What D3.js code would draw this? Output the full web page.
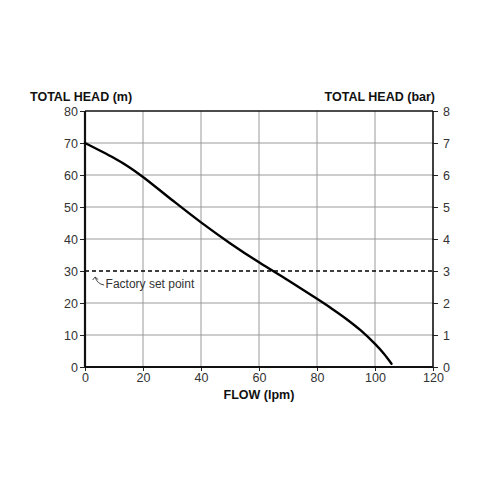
<!DOCTYPE html>
<html>
<head>
<meta charset="utf-8">
<script src="https://cdn.jsdelivr.net/npm/d3@7"></script>
<style>
  body { margin: 0; background: #fff; }
  text { font-family: "Liberation Sans", Arial, sans-serif; }
</style>
</head>
<body>
<div id="chart"></div>
<script>
// pump curve: flow (lpm) vs head (m)
const flow = [0, 10, 15, 20, 30, 40, 50, 60, 70, 80, 85, 90, 95, 100, 103, 105.7];
const head = [70, 65.3, 62.6, 59.4, 52.2, 45.2, 38.7, 32.7, 27.1, 21.3, 18.3, 15.1, 11.5, 7.2, 4.2, 1.0];
const xTicks = [0, 20, 40, 60, 80, 100, 120];
const mTicks = [0, 10, 20, 30, 40, 50, 60, 70, 80];
const barTicks = [0, 1, 2, 3, 4, 5, 6, 7, 8];
const setPoint = 30;

const W = 500, H = 500;
const margin = {top: 111, right: 67, bottom: 133, left: 85};
const width = W - margin.left - margin.right,
      height = H - margin.top - margin.bottom;

const svg = d3.select("#chart").append("svg")
  .attr("width", W).attr("height", H);
const g = svg.append("g")
  .attr("transform", "translate(" + margin.left + "," + margin.top + ")");

const x = d3.scaleLinear().domain([0, 120]).range([0, width]);
const y = d3.scaleLinear().domain([0, 80]).range([height, 0]);
const yBar = d3.scaleLinear().domain([0, 8]).range([height, 0]);

// grid
g.selectAll(".vg").data(xTicks.slice(1, -1)).enter().append("line")
  .attr("x1", d => x(d)).attr("x2", d => x(d))
  .attr("y1", 0).attr("y2", height)
  .attr("stroke", "#9a9a9a").attr("stroke-width", 1);
g.selectAll(".hg").data(mTicks.slice(1, -1).filter(d => d !== setPoint)).enter().append("line")
  .attr("x1", 0).attr("x2", width)
  .attr("y1", d => y(d)).attr("y2", d => y(d))
  .attr("stroke", "#9a9a9a").attr("stroke-width", 1);

// set point dashed
g.append("line")
  .attr("x1", 0).attr("x2", width)
  .attr("y1", y(setPoint)).attr("y2", y(setPoint))
  .attr("stroke", "#000").attr("stroke-width", 1.4)
  .attr("stroke-dasharray", "4,3");

// axes
function styleAxis(sel) {
  sel.select(".domain").remove();
  sel.selectAll(".tick line").attr("stroke", "#222");
  sel.selectAll(".tick text").attr("fill", "#333").style("font-size", "12.5px");
}
g.append("g").attr("transform", "translate(0," + height + ")")
  .call(d3.axisBottom(x).tickValues(xTicks).tickSize(4).tickPadding(2))
  .call(styleAxis);
g.append("g")
  .call(d3.axisLeft(y).tickValues(mTicks).tickSize(5).tickPadding(2))
  .call(styleAxis);
g.append("g").attr("transform", "translate(" + width + ",0)")
  .call(d3.axisRight(yBar).tickValues(barTicks).tickSize(5).tickPadding(5))
  .call(styleAxis);

// frame
g.append("line").attr("x1", 0).attr("x2", width).attr("y1", 0).attr("y2", 0)
  .attr("stroke", "#111").attr("stroke-width", 1.6);
g.append("line").attr("x1", width).attr("x2", width).attr("y1", 0).attr("y2", height)
  .attr("stroke", "#111").attr("stroke-width", 1.6);
g.append("line").attr("x1", 0).attr("x2", 0).attr("y1", 0).attr("y2", height)
  .attr("stroke", "#111").attr("stroke-width", 2.2);
g.append("line").attr("x1", 0).attr("x2", width).attr("y1", height).attr("y2", height)
  .attr("stroke", "#111").attr("stroke-width", 2.2);

// curve
const pts = flow.map((f, i) => [f, head[i]]);
const line = d3.line()
  .x(d => x(d[0])).y(d => y(d[1]))
  .curve(d3.curveCatmullRom.alpha(0.5));
g.append("path").datum(pts)
  .attr("fill", "none").attr("stroke", "#000")
  .attr("stroke-width", 2.4).attr("stroke-linecap", "round")
  .attr("d", line);

// annotation
const ax = x(3.5), ay = y(setPoint) + 6;
g.append("path")
  .attr("d", "M" + (ax + 9) + "," + (ay + 8) + " Q" + (ax + 2) + "," + (ay + 7) + " " + ax + "," + ay)
  .attr("fill", "none").attr("stroke", "#333").attr("stroke-width", 0.9);
g.append("path")
  .attr("d", "M" + (ax - 2.5) + "," + (ay + 3) + " L" + ax + "," + ay + " L" + (ax + 3) + "," + (ay + 2.5))
  .attr("fill", "none").attr("stroke", "#333").attr("stroke-width", 0.9);
g.append("text")
  .attr("x", x(7.1)).attr("y", y(setPoint) + 17)
  .attr("fill", "#333").style("font-size", "12px")
  .text("Factory set point");

// titles
svg.append("text").attr("x", 30).attr("y", 101)
  .style("font-size", "12.5px").style("font-weight", "bold").attr("fill", "#111")
  .text("TOTAL HEAD (m)");
svg.append("text").attr("x", margin.left + width + 2).attr("y", 101)
  .attr("text-anchor", "end")
  .style("font-size", "12.5px").style("font-weight", "bold").attr("fill", "#111")
  .text("TOTAL HEAD (bar)");
svg.append("text").attr("x", margin.left + x(60)).attr("y", 399)
  .attr("text-anchor", "middle")
  .style("font-size", "12.5px").style("font-weight", "bold").attr("fill", "#111")
  .text("FLOW (lpm)");
</script>
</body>
</html>
